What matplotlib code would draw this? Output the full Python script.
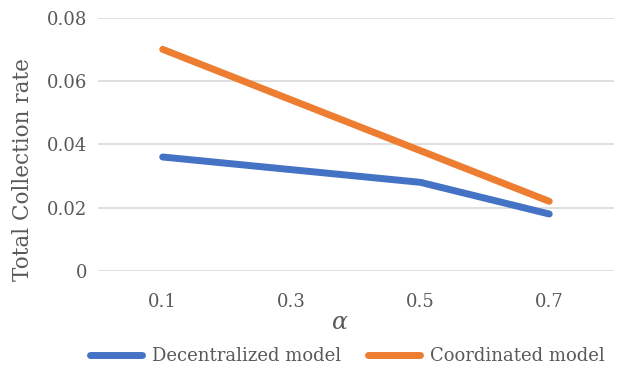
import matplotlib.pyplot as plt

alpha = ["0.1", "0.3", "0.5", "0.7"]
decentralized = [0.036, 0.032, 0.028, 0.018]
coordinated = [0.070, 0.054, 0.038, 0.022]

plt.rcParams['font.family'] = ['DejaVu Serif']
plt.rcParams['mathtext.fontset'] = 'dejavuserif'
txt = '#595959'

fig = plt.figure(figsize=(6.18, 3.67), dpi=100)
ax = fig.add_axes([0.159, 0.2616, 0.834, 0.6902])

x = range(len(alpha))
ax.plot(x, decentralized, color='#4472C4', lw=5, solid_capstyle='round',
        solid_joinstyle='round', label='Decentralized model')
ax.plot(x, coordinated, color='#ED7D31', lw=5, solid_capstyle='round',
        solid_joinstyle='round', label='Coordinated model')

ax.set_xlim(-0.5, len(alpha) - 0.5)
ax.set_ylim(0, 0.08)
ax.set_xticks(list(x))
ax.set_xticklabels(alpha)
ax.set_yticks([0, 0.02, 0.04, 0.06, 0.08])
ax.set_yticklabels(['0', '0.02', '0.04', '0.06', '0.08'])
ax.tick_params(length=0, labelsize=13, colors=txt)
ax.tick_params(axis='x', pad=16)
ax.tick_params(axis='y', pad=8)
ax.grid(axis='y', color='#D9D9D9', lw=1.2)
ax.set_axisbelow(True)
for s in ax.spines.values():
    s.set_visible(False)

ax.set_ylabel('Total Collection rate', fontsize=15.5, color=txt)
ax.yaxis.set_label_coords(-0.125, 0.399)
ax.set_xlabel(r'$\alpha$', fontsize=17, color=txt)
ax.xaxis.set_label_coords(0.469, -0.205)
ax.xaxis.label.set_va('center')

fig.legend(loc='center', bbox_to_anchor=(0.562, 0.03), ncol=2,
           frameon=False, fontsize=13, labelcolor=txt, handlelength=2.9,
           handletextpad=0.55, columnspacing=1.5)

fig.savefig('out.png', dpi=100)
